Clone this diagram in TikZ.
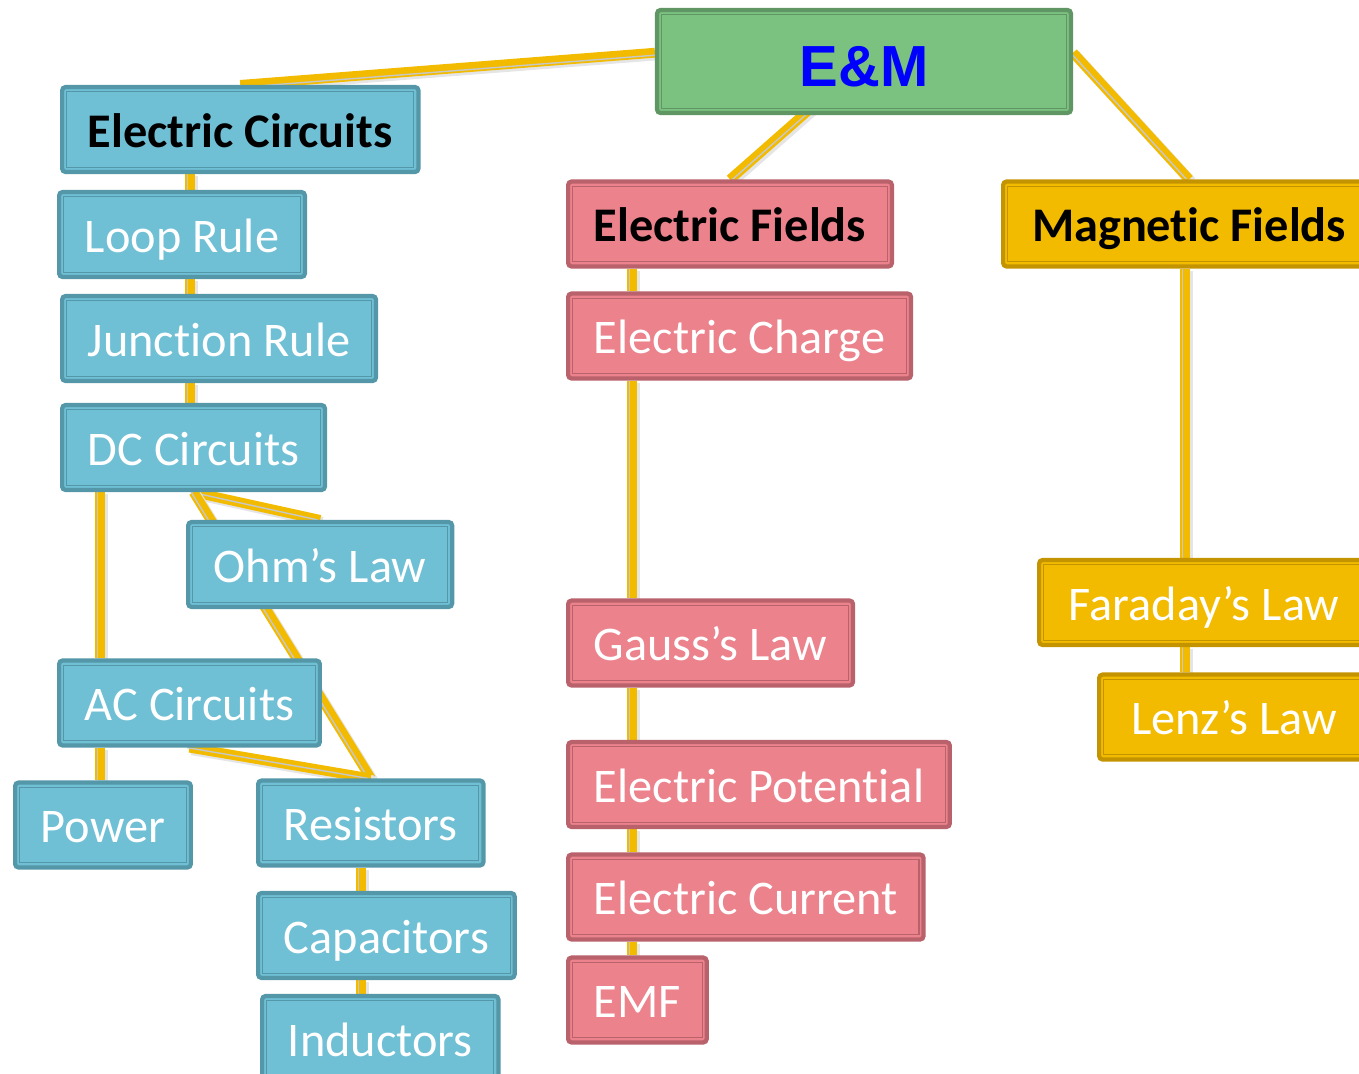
\documentclass[tikz,border=0pt]{standalone}
\usepackage{fontspec}
\setmainfont{Carlito}[Ligatures=NoCommon]
\newfontfamily\headfont{Liberation Sans}
\usetikzlibrary{positioning, backgrounds}
\definecolor{circfill}{RGB}{111, 191, 213}
\definecolor{circline}{RGB}{84, 151, 168}
\definecolor{fieldfill}{RGB}{235, 130, 140}
\definecolor{fieldline}{RGB}{185, 98, 108}
\definecolor{magfill}{RGB}{242, 187, 0}
\definecolor{magline}{RGB}{196, 148, 0}
\definecolor{topfill}{RGB}{123, 194, 128}
\definecolor{topline}{RGB}{96, 150, 100}
\definecolor{linkgold}{RGB}{242, 187, 0}
\definecolor{linkgray}{RGB}{200, 200, 200}

\begin{document}
\begin{tikzpicture}[
        x=0.02cm, y=-0.02cm,
        topic/.style={draw=#1line, fill=#1fill, rounded corners=2pt, line width=2.4pt,
            minimum height=1.7cm, inner xsep=0.515cm, anchor=west, text=white,
            text height=24pt, text depth=4pt,
            font=\fontsize{27.5}{30}\selectfont,
            path picture={\draw[#1line, line width=0.6pt, sharp corners]
                ([shift={(2.6pt,-2.6pt)}]path picture bounding box.north west) rectangle
                ([shift={(-2.6pt,2.6pt)}]path picture bounding box.south east);}},
        head/.style={text=black, font=\fontsize{27.5}{30}\selectfont\bfseries},
        link/.style={draw=linkgold, line width=5.6pt,
            preaction={draw=black!10, line width=6pt, transform canvas={shift={(1.3pt,-1.3pt)}}},
            postaction={draw=linkgray, line width=0.8pt, transform canvas={#1}}},
        link/.default={xshift=-1.4pt}
    ]
    \useasboundingbox (0,0) rectangle (1359,1073);

    % Top
    \node[topic=top, anchor=center, minimum width=8.28cm, minimum height=2.06cm, text=blue,
        text height=29pt, text depth=0pt,
        font=\headfont\fontsize{33}{36}\selectfont\bfseries] (em) at (864,61.5) {E\&M};

    % Circuits column
    \node[topic=circ, head] (ec) at (60,129.5) {Electric Circuits};
    \node[topic=circ] (lr) at (57,234.5) {Loop Rule};
    \node[topic=circ] (jr) at (60,338.5) {Junction Rule};
    \node[topic=circ] (dc) at (60,447.5) {DC Circuits};
    \node[topic=circ] (ohm) at (186,564.5) {Ohm’s Law};
    \node[topic=circ] (ac) at (57,703) {AC Circuits};
    \node[topic=circ] (pw) at (13,825) {Power};
    \node[topic=circ] (res) at (256,823) {Resistors};
    \node[topic=circ] (cap) at (256,935.5) {Capacitors};
    \node[topic=circ] (ind) at (260,1038.5) {Inductors};

    % Electric fields column
    \node[topic=field, head] (ef) at (566,224) {Electric Fields};
    \node[topic=field] (ech) at (566,336) {Electric Charge};
    \node[topic=field] (gl) at (566,643) {Gauss’s Law};
    \node[topic=field] (ep) at (566,784.5) {Electric Potential};
    \node[topic=field] (ecur) at (566,897) {Electric Current};
    \node[topic=field] (emf) at (566,1000) {EMF};

    % Magnetic fields column (runs off the right edge)
    \node[topic=mag, head, minimum width=7.44cm] (mf) at (1001,224) {Magnetic Fields};
    \node[topic=mag, minimum width=6.6cm] (fl) at (1037,602.5) {Faraday’s Law};
    \node[topic=mag, minimum width=5.4cm] (lz) at (1097,717) {Lenz’s Law};

    % Connectors, behind the boxes
    \coordinate (cspine) at (190,0);
    \coordinate (pspine) at (100,0);
    \coordinate (rspine) at (361,0);
    \coordinate (fspine) at (632,0);
    \coordinate (mspine) at (1185,0);
    \begin{scope}[on background layer]
        \draw[link={yshift=-1.4pt}] (ec.north) -- ([yshift=5pt]em.west);
        \draw[link={xshift=1.4pt}] (ef.north) -- (em.center);
        \draw[link] (mf.north) -- ([yshift=5pt]em.east);
        \foreach \a/\b in {ec/lr, lr/jr, jr/dc} {
            \draw[link] (cspine |- \a.south) -- (cspine |- \b.north);
        }
        \foreach \a/\b in {dc/ac, ac/pw} {
            \draw[link] (pspine |- \a.south) -- (pspine |- \b.north);
        }
        \draw[link] (dc.south) -- (ohm.north);
        \draw[link] (dc.south) -- (res.north);
        \draw[link] (ac.south) -- (res.north);
        \foreach \a/\b in {res/cap, cap/ind} {
            \draw[link] (rspine |- \a.south) -- (rspine |- \b.north);
        }
        \foreach \a/\b in {ef/ech, ech/gl, gl/ep, ep/ecur, ecur/emf} {
            \draw[link] (fspine |- \a.south) -- (fspine |- \b.north);
        }
        \foreach \a/\b in {mf/fl, fl/lz} {
            \draw[link] (mspine |- \a.south) -- (mspine |- \b.north);
        }
    \end{scope}
\end{tikzpicture}
\end{document}
